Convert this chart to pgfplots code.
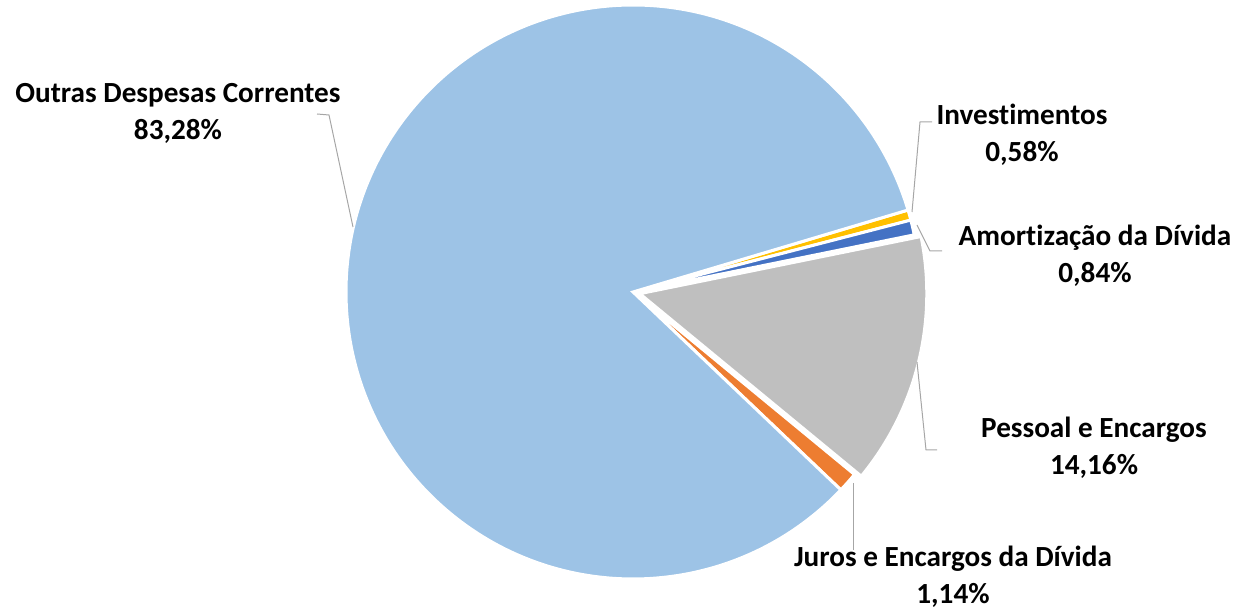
\documentclass[border=0pt]{standalone}
\usepackage{pgfplots}
\pgfplotsset{compat=1.18}
\usepackage{pgfplotstable}
\usepackage{fontspec}
\setmainfont{Carlito}[Ligatures=NoCommon]
\definecolor{cOut}{HTML}{9DC3E6}
\definecolor{cPes}{HTML}{BFBFBF}
\definecolor{cJur}{HTML}{ED7D31}
\definecolor{cAmo}{HTML}{4472C4}
\definecolor{cInv}{HTML}{FFC000}
\definecolor{leader}{HTML}{A6A6A6}
% slices in clockwise order, starting angle 16.6 deg
\pgfplotstableread[col sep=comma]{
value,explode,col
0.58,0,cInv
0.84,0,cAmo
14.16,7,cPes
1.14,0,cJur
83.28,0,cOut
}\piedata
\def\startangle{16.6}
\def\cx{633}
\def\cy{318}
\begin{document}
\begin{tikzpicture}
\begin{axis}[x=0.5pt,y=0.5pt,xmin=0,xmax=1238,ymin=0,ymax=610,
  hide axis,clip=false,scale only axis,anchor=south west,at={(0,0)}]
\def\cum{0}
\pgfplotsforeachungrouped \i in {0,...,4}{%
  \pgfplotstablegetelem{\i}{value}\of\piedata \let\pval\pgfplotsretval
  \pgfplotstablegetelem{\i}{explode}\of\piedata \let\pexp\pgfplotsretval
  \pgfplotstablegetelem{\i}{col}\of\piedata \let\pcol\pgfplotsretval
  \pgfmathsetmacro\aA{\startangle-3.6*\cum}%
  \pgfmathsetmacro\aB{\aA-3.6*\pval}%
  \pgfmathsetmacro\aM{(\aA+\aB)/2}%
  \pgfmathsetmacro\ox{\cx+\pexp*cos(\aM)}%
  \pgfmathsetmacro\oy{\cy+\pexp*sin(\aM)}%
  \pgfmathsetmacro\cum{\cum+\pval}%
  \edef\temp{\noexpand\fill[fill=\pcol,draw=white,line width=1.5pt]
    (\ox,\oy) -- ++(\aA:143.5pt) arc[start angle=\aA,end angle=\aB,radius=143.5pt] -- cycle;}%
  \temp
}
% leader lines
\draw[leader,line width=0.5pt] (317,496) -- (329,495) -- (353,383);
\draw[leader,line width=0.5pt] (932,488) -- (920,488) -- (912,398);
\draw[leader,line width=0.5pt] (917,385) -- (930,359) -- (942,359);
\draw[leader,line width=0.5pt] (917,248) -- (926,160) -- (937,160);
\draw[leader,line width=0.5pt] (853,127) -- (853,60);
% labels
\tikzset{lbl/.style={align=center,font=\fontsize{14.6}{18.5}\selectfont\bfseries,inner sep=0pt}}
\node[lbl] at (178,497) {Outras Despesas Correntes\\83,28\%};
\node[lbl] at (1022,475) {Investimentos\\0,58\%};
\node[lbl] at (1095,354) {Amortização da Dívida\\0,84\%};
\node[lbl] at (1094,162) {Pessoal e Encargos\\14,16\%};
\node[lbl] at (953,33.5) {Juros e Encargos da Dívida\\1,14\%};
\end{axis}
\pgfresetboundingbox
\useasboundingbox (0,0) rectangle (619pt,305pt);
\end{tikzpicture}
\end{document}
